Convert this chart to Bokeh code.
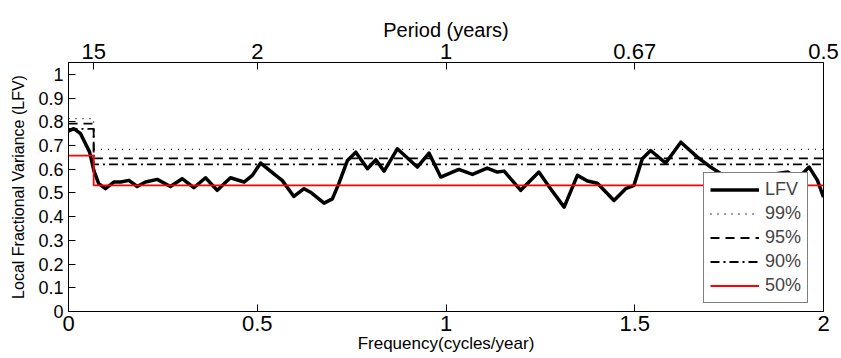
from bokeh.plotting import figure
from bokeh.models import (Range1d, LinearAxis, FixedTicker, CustomJSTickFormatter,
                          Legend, LegendItem)
from bokeh.embed import file_html
from bokeh.resources import INLINE

# ---- data ----
lfv_freq = [0.0, 0.014, 0.032, 0.045, 0.056, 0.067, 0.080, 0.098, 0.120, 0.138,
            0.160, 0.182, 0.204, 0.235, 0.270, 0.301, 0.332, 0.363, 0.394, 0.429,
            0.465, 0.487, 0.509, 0.549, 0.566, 0.597, 0.624, 0.641, 0.677, 0.699,
            0.716, 0.739, 0.761, 0.792, 0.814, 0.836, 0.871, 0.924, 0.955, 0.986,
            1.034, 1.070, 1.109, 1.136, 1.154, 1.198, 1.246, 1.277, 1.313, 1.348,
            1.375, 1.401, 1.445, 1.476, 1.498, 1.520, 1.542, 1.582, 1.622, 1.666,
            1.701, 1.728, 1.760, 1.800, 1.840, 1.870, 1.905, 1.931, 1.962, 1.984,
            2.0]
lfv_vals = [0.761, 0.771, 0.750, 0.707, 0.672, 0.595, 0.539, 0.518, 0.546, 0.546,
            0.553, 0.527, 0.546, 0.557, 0.527, 0.560, 0.522, 0.564, 0.511, 0.564,
            0.546, 0.574, 0.626, 0.574, 0.553, 0.485, 0.518, 0.503, 0.457, 0.475,
            0.539, 0.637, 0.672, 0.602, 0.640, 0.592, 0.686, 0.609, 0.668, 0.567,
            0.599, 0.578, 0.605, 0.588, 0.592, 0.511, 0.588, 0.518, 0.440, 0.574,
            0.550, 0.541, 0.468, 0.518, 0.532, 0.644, 0.679, 0.626, 0.714, 0.651,
            0.609, 0.581, 0.560, 0.540, 0.550, 0.580, 0.588, 0.560, 0.609, 0.553,
            0.482]

break_period = 15.0          # threshold step at 1/15 cycles/year
thr99 = [0.813, 0.684]
thr95 = [0.792, 0.646]
thr90 = [0.770, 0.620]
thr50 = [0.657, 0.532]

x_ticks = [0, 0.5, 1, 1.5, 2]
y_ticks = [0, 0.1, 0.2, 0.3, 0.4, 0.5, 0.6, 0.7, 0.8, 0.9, 1.0]
period_values = [15, 2, 1, 0.6667, 0.5]
period_labels = ["15", "2", "1", "0.67", "0.5"]

FONT = "Liberation Sans"

p = figure(frame_width=755, frame_height=249,
           x_range=Range1d(0, 2), y_range=Range1d(0, 1.05),
           output_backend="svg", toolbar_location=None,
           min_border_left=68, min_border_right=18,
           min_border_top=62, min_border_bottom=47)
p.grid.visible = False
p.outline_line_color = "black"
p.outline_line_width = 1
p.background_fill_color = "white"
p.border_fill_color = "white"

num_fmt = CustomJSTickFormatter(code="return tick.toFixed(2).replace(/0+$/, '').replace(/\\.$/, '');")

xa = p.xaxis[0]
xa.ticker = FixedTicker(ticks=x_ticks)
xa.formatter = num_fmt
xa.axis_label = "Frequency(cycles/year)"

ya = p.yaxis[0]
ya.ticker = FixedTicker(ticks=y_ticks)
ya.formatter = num_fmt
ya.axis_label = "Local Fractional Variance (LFV)"

f_break = 1.0 / break_period
top = LinearAxis(x_range_name="top",
                 ticker=FixedTicker(ticks=[1.0 / v for v in period_values]),
                 formatter=CustomJSTickFormatter(args=dict(labels=period_labels),
                                                 code="return labels[index];"),
                 axis_label="Period (years)")
p.extra_x_ranges = {"top": Range1d(0, 2)}
p.add_layout(top, "above")

for ax, lab_size, ttl_size in [(xa, "22px", "17px"), (ya, "18px", "16px"), (top, "22px", "20px")]:
    ax.major_tick_in = 7
    ax.major_tick_out = 0
    ax.minor_tick_line_color = None
    ax.axis_line_color = "black"
    ax.major_tick_line_color = "black"
    ax.major_label_text_font = FONT
    ax.major_label_text_font_size = lab_size
    ax.major_label_text_color = "black"
    ax.axis_label_text_font = FONT
    ax.axis_label_text_font_size = ttl_size
    ax.axis_label_text_font_style = "normal"
    ax.axis_label_text_color = "black"
xa.major_label_standoff = 4
xa.axis_label_standoff = 0
ya.major_label_standoff = 5
ya.axis_label_standoff = 8
top.major_label_standoff = 4
top.axis_label_standoff = 0

def step(th):
    return [0, f_break, f_break, 2], [th[0], th[0], th[1], th[1]]

r_lfv = p.line(lfv_freq, lfv_vals, line_color="black", line_width=3.5, line_join="round")
x99, y99 = step(thr99)
r99 = p.line(x99, y99, line_color="black", line_width=1.3, line_dash="1 6")
x95, y95 = step(thr95)
r95 = p.line(x95, y95, line_color="black", line_width=1.8, line_dash="9 6")
x90, y90 = step(thr90)
r90 = p.line(x90, y90, line_color="black", line_width=1.8, line_dash="9 4 2 4")
x50, y50 = step(thr50)
r50 = p.line(x50, y50, line_color="red", line_width=1.8)

legend = Legend(items=[LegendItem(label="LFV", renderers=[r_lfv]),
                       LegendItem(label="99%", renderers=[r99]),
                       LegendItem(label="95%", renderers=[r95]),
                       LegendItem(label="90%", renderers=[r90]),
                       LegendItem(label="50%", renderers=[r50])],
                location=(635, 8), margin=0, padding=6, spacing=3,
                glyph_width=49, glyph_height=21, label_height=21, label_width=36,
                label_standoff=6,
                label_text_font=FONT, label_text_font_size="18px",
                border_line_color="black", border_line_width=1,
                background_fill_color="white", background_fill_alpha=1.0)
p.add_layout(legend, "center")

open("out.html", "w").write(file_html(p, INLINE))
